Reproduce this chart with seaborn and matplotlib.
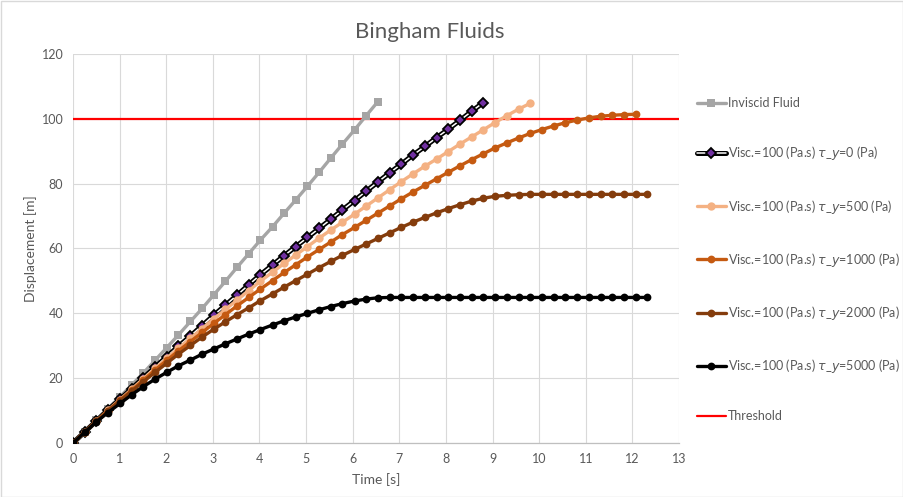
import matplotlib
matplotlib.use("Agg")
import matplotlib.pyplot as plt
import pandas as pd
import seaborn as sns

# Simulation time stamps [s]
time_s = [0.00, 0.25, 0.50, 0.75, 1.01, 1.26, 1.51, 1.76, 2.01, 2.26,
          2.52, 2.77, 3.02, 3.27, 3.52, 3.77, 4.02, 4.28, 4.53, 4.78,
          5.03, 5.28, 5.53, 5.78, 6.04, 6.29, 6.54, 6.79, 7.04, 7.29,
          7.55, 7.80, 8.05, 8.30, 8.55, 8.80, 9.05, 9.31, 9.56, 9.81,
          10.06, 10.31, 10.56, 10.81, 11.07, 11.32, 11.57, 11.82, 12.07, 12.32]

# Displacement [m] for each run
inviscid = [0, 3.4, 7.0, 10.6, 14.3, 17.9, 21.6, 25.5, 29.4, 33.3,
            37.5, 41.5, 45.7, 49.9, 54.2, 58.4, 62.6, 66.7, 70.9, 75.0,
            79.2, 83.5, 87.9, 92.2, 96.6, 101.0, 105.3]
tau_0 = [0, 3.4, 6.8, 10.2, 13.5, 16.8, 20.1, 23.4, 26.6, 29.8,
         33.0, 36.2, 39.4, 42.5, 45.6, 48.8, 51.9, 54.9, 57.8, 60.6,
         63.4, 66.2, 69.0, 71.9, 74.8, 77.7, 80.5, 83.3, 86.0, 88.8,
         91.5, 94.2, 96.8, 99.5, 102.3, 105.0]
tau_500 = [0, 3.4, 6.8, 10.1, 13.4, 16.6, 19.8, 23.0, 26.1, 29.2,
           32.3, 35.3, 38.3, 41.2, 44.1, 47.0, 49.9, 52.7, 55.4, 58.0,
           60.6, 63.2, 65.7, 68.1, 70.6, 73.1, 75.6, 78.1, 80.6, 83.0,
           85.4, 87.6, 89.9, 92.2, 94.4, 96.6, 98.8, 101.0, 103.0, 104.8]
tau_1000 = [0, 3.4, 6.7, 10.0, 13.2, 16.3, 19.4, 22.5, 25.5, 28.4,
            31.3, 34.1, 36.9, 39.6, 42.3, 44.9, 47.5, 50.1, 52.6, 55.0,
            57.4, 59.7, 62.0, 64.3, 66.5, 68.7, 70.9, 73.1, 75.3, 77.4,
            79.5, 81.5, 83.5, 85.5, 87.4, 89.2, 91.0, 92.6, 94.1, 95.5,
            96.7, 97.8, 98.8, 99.6, 100.3, 100.8, 101.1, 101.3, 101.4]
tau_2000 = [0, 3.4, 6.7, 9.9, 13.0, 16.0, 18.9, 21.8, 24.6, 27.4,
            30.1, 32.7, 35.1, 37.4, 39.6, 41.7, 43.9, 46.0, 48.1, 50.1,
            52.1, 54.1, 56.0, 57.9, 59.7, 61.4, 63.1, 64.8, 66.5, 68.1,
            69.6, 71.0, 72.3, 73.5, 74.6, 75.5, 76.1, 76.4, 76.6, 76.7,
            76.7, 76.7, 76.7, 76.7, 76.7, 76.7, 76.7, 76.7, 76.7, 76.7]
tau_5000 = [0, 3.3, 6.5, 9.4, 12.2, 14.9, 17.4, 19.7, 21.8, 23.8,
            25.6, 27.4, 29.0, 30.6, 32.1, 33.6, 35.0, 36.4, 37.7, 38.9,
            40.0, 41.1, 42.1, 43.0, 43.8, 44.4, 44.8, 44.9, 44.9, 44.9,
            44.9, 44.9, 44.9, 44.9, 44.9, 44.9, 44.9, 44.9, 44.9, 44.9,
            44.9, 44.9, 44.9, 44.9, 44.9, 44.9, 44.9, 44.9, 44.9, 44.9]
threshold = 100

labels = ["Inviscid Fluid",
          r"Visc.=100 (Pa.s) $\tau$_$y$=0 (Pa)",
          r"Visc.=100 (Pa.s) $\tau$_$y$=500 (Pa)",
          r"Visc.=100 (Pa.s) $\tau$_$y$=1000 (Pa)",
          r"Visc.=100 (Pa.s) $\tau$_$y$=2000 (Pa)",
          r"Visc.=100 (Pa.s) $\tau$_$y$=5000 (Pa)",
          "Threshold"]

sns.set_theme(style="white")
plt.rcParams["font.family"] = ["Lato", "DejaVu Sans"]
plt.rcParams["mathtext.fontset"] = "dejavusans"

TXT = "#595959"

fig = plt.figure(figsize=(9.04, 4.97), dpi=100)
ax = fig.add_axes([73 / 904, 1 - 443 / 497, 606 / 904, 389 / 497])

thr = ax.axhline(threshold, color="#FF0000", lw=1.6, zorder=2, label=labels[6])


def draw(vals, label, **kw):
    df = pd.DataFrame({"Time": time_s[:len(vals)], "Displacement": vals})
    sns.lineplot(data=df, x="Time", y="Displacement", ax=ax, estimator=None,
                 sort=False, label=label, zorder=3, **kw)
    return ax.lines[-1]


h_inv = draw(inviscid, labels[0], color="#A5A5A5", lw=2.4, marker="s",
             markersize=6.2, markeredgewidth=0)
# outlined line: thick black underlay, thin white core with diamond markers
h0a = draw(tau_0, "_tau0_outline", color="black", lw=3.6)
h0b = draw(tau_0, labels[1], color="white", lw=1.1, marker="D", markersize=5.6,
           markerfacecolor="#7030A0", markeredgecolor="black", markeredgewidth=1.3)
h500 = draw(tau_500, labels[2], color="#F4B183", lw=2.4, marker="o",
            markersize=6.0, markeredgewidth=0)
h1000 = draw(tau_1000, labels[3], color="#C55A11", lw=2.4, marker="o",
             markersize=5.6, markeredgewidth=0)
h2000 = draw(tau_2000, labels[4], color="#843C0C", lw=2.4, marker="o",
             markersize=5.6, markeredgewidth=0)
h5000 = draw(tau_5000, labels[5], color="black", lw=2.4, marker="o",
             markersize=5.6, markeredgewidth=0)
if ax.get_legend() is not None:
    ax.get_legend().remove()

handles = [h_inv, (h0a, h0b), h500, h1000, h2000, h5000, thr]

ax.set_xlim(0, 13)
ax.set_ylim(0, 120)
ax.set_xticks(range(0, 14))
ax.set_yticks(range(0, 121, 20))
ax.grid(True, color="#D9D9D9", lw=0.8)
ax.set_axisbelow(True)
for s in ["left", "top", "right"]:
    ax.spines[s].set_visible(False)
ax.spines["bottom"].set_color("#BFBFBF")
ax.spines["bottom"].set_linewidth(0.9)
ax.tick_params(axis="both", length=0, labelsize=9, labelcolor=TXT, pad=7)
ax.set_xlabel("Time [s]", fontsize=10, color=TXT, labelpad=6)
ax.set_ylabel("Displacement [m]", fontsize=10, color=TXT, labelpad=3)

fig.text(430 / 904, 1 - 32 / 497, "Bingham Fluids", ha="center", va="center",
         fontsize=16, color=TXT)

fig.legend(handles, labels, loc="upper left",
           bbox_to_anchor=(697 / 904, 1 - 97 / 497), frameon=False,
           fontsize=9, labelspacing=2.82, handlelength=2.3, handletextpad=0.15,
           borderaxespad=0, borderpad=0, labelcolor=TXT)

fig.add_artist(plt.Rectangle((0.0008, 0.001), 0.9984, 0.997, transform=fig.transFigure,
                             fill=False, ec="#D9D9D9", lw=1))

fig.savefig("out.png", dpi=100)
